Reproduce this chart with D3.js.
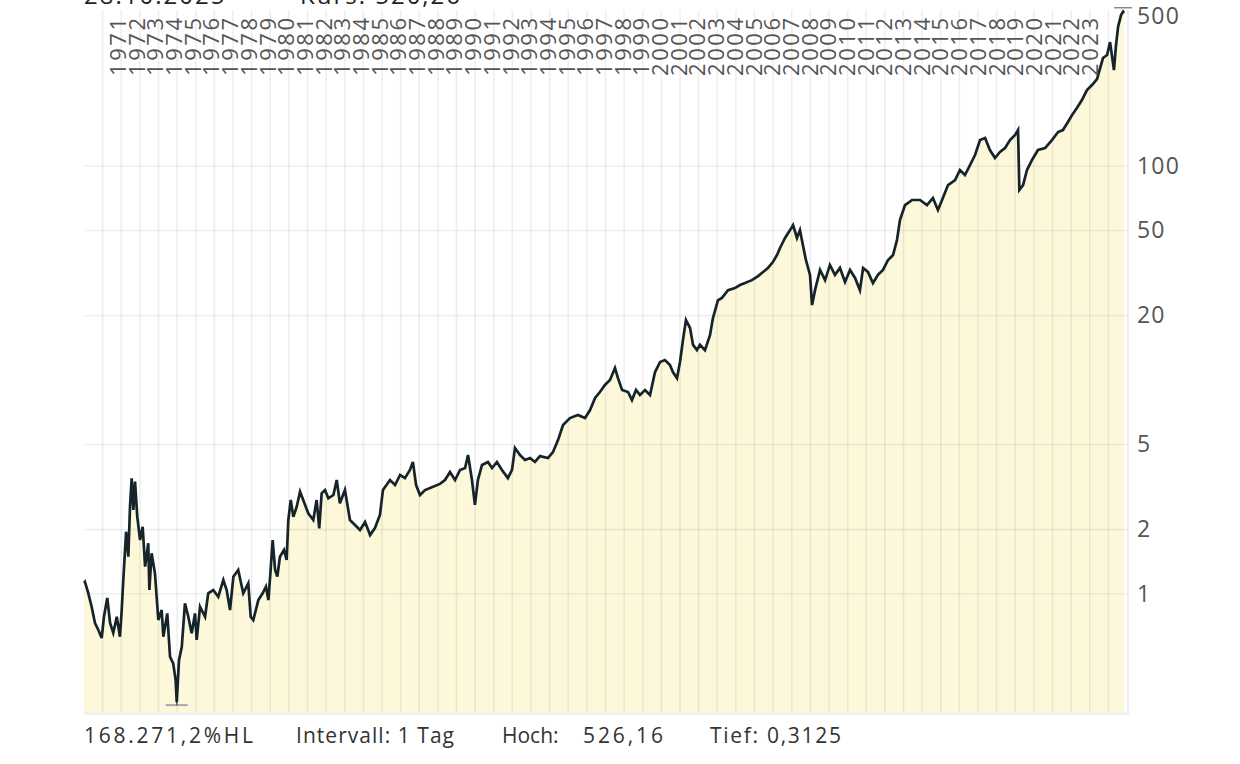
<!DOCTYPE html>
<html><head><meta charset="utf-8">
<script src="https://cdn.jsdelivr.net/npm/d3@7"></script>
<style>
html,body{margin:0;padding:0;background:#fff;}
svg{display:block;}
text{font-family:"Open Sans","Noto Sans",sans-serif;}
</style></head>
<body><svg id="c" width="1240" height="764"></svg>
<script>
// ---- data (decimal year, price) ----
const dates = [1970.00,1970.05,1970.23,1970.41,1970.59,1970.77,1970.95,1971.07,1971.25,1971.40,1971.57,1971.76,1971.93,1972.02,1972.11,1972.26,1972.38,1972.47,1972.56,1972.65,1972.74,1972.86,1973.01,1973.15,1973.28,1973.45,1973.51,1973.63,1973.81,1973.99,1974.17,1974.26,1974.47,1974.62,1974.79,1974.92,1974.98,1975.10,1975.25,1975.42,1975.60,1975.78,1975.96,1976.05,1976.23,1976.50,1976.67,1976.94,1977.21,1977.48,1977.66,1977.84,1978.02,1978.28,1978.55,1978.82,1978.95,1979.09,1979.36,1979.59,1979.77,1979.90,1980.02,1980.13,1980.26,1980.38,1980.52,1980.74,1980.88,1980.97,1981.10,1981.24,1981.42,1981.60,1981.77,1982.04,1982.31,1982.49,1982.63,1982.76,1982.94,1983.12,1983.39,1983.57,1983.74,1984.01,1984.28,1984.55,1984.82,1985.09,1985.36,1985.62,1985.89,1986.05,1986.43,1986.70,1986.97,1987.23,1987.50,1987.66,1987.83,1988.04,1988.31,1988.58,1989.11,1989.38,1989.65,1989.92,1990.19,1990.46,1990.62,1990.83,1990.99,1991.15,1991.37,1991.69,1991.91,1992.17,1992.44,1992.76,1992.98,1993.14,1993.41,1993.68,1993.95,1994.21,1994.48,1994.91,1995.18,1995.45,1995.72,1996.09,1996.52,1996.90,1997.17,1997.44,1997.70,1997.97,1998.24,1998.51,1998.67,1998.89,1999.21,1999.42,1999.64,1999.85,2000.12,2000.39,2000.66,2000.93,2001.19,2001.46,2001.62,2001.84,2002.00,2002.16,2002.32,2002.54,2002.70,2002.91,2003.07,2003.34,2003.61,2003.77,2004.04,2004.25,2004.58,2004.95,2005.22,2005.49,2005.86,2006.19,2006.46,2006.72,2006.99,2007.21,2007.37,2007.64,2007.91,2008.07,2008.28,2008.44,2008.60,2008.76,2008.98,2009.09,2009.25,2009.52,2009.79,2010.05,2010.32,2010.59,2010.86,2011.13,2011.40,2011.66,2011.83,2012.09,2012.36,2012.63,2012.90,2013.17,2013.44,2013.65,2013.81,2014.08,2014.46,2014.89,2015.26,2015.58,2015.85,2016.07,2016.39,2016.77,2017.03,2017.30,2017.57,2017.84,2018.11,2018.38,2018.64,2018.91,2019.18,2019.45,2019.72,2019.99,2020.15,2020.22,2020.42,2020.63,2020.90,2021.22,2021.60,2021.97,2022.30,2022.56,2022.83,2023.05,2023.31,2023.58,2023.85,2024.12,2024.39,2024.71,2024.93,2025.09,2025.30,2025.41,2025.52,2025.68,2025.79,2025.84];
const prices = [1.126,1.14,1.01,0.872,0.732,0.679,0.623,0.783,0.958,0.732,0.658,0.783,0.632,0.827,1.163,1.955,1.494,2.558,3.473,2.47,3.35,2.30,1.788,2.063,1.342,1.726,1.044,1.55,1.249,0.756,0.842,0.632,0.812,0.509,0.474,0.396,0.3125,0.491,0.567,0.905,0.783,0.655,0.812,0.610,0.872,0.783,1.008,1.044,0.971,1.163,1.044,0.842,1.205,1.295,1.008,1.122,0.783,0.756,0.937,1.008,1.082,0.937,1.295,1.788,1.295,1.205,1.494,1.606,1.442,2.217,2.750,2.297,2.558,3.006,2.750,2.383,2.217,2.750,2.028,2.955,3.062,2.801,2.902,3.41,2.653,3.062,2.217,2.10,1.991,2.17,1.887,2.035,2.34,3.062,3.41,3.23,3.60,3.48,3.80,4.14,3.23,2.902,3.062,3.13,3.27,3.41,3.72,3.41,3.80,3.88,4.46,3.41,2.61,3.41,4.01,4.14,3.88,4.14,3.80,3.48,3.80,4.81,4.46,4.23,4.32,4.14,4.41,4.32,4.61,5.24,6.16,6.64,6.86,6.64,7.24,8.24,8.79,9.48,10.0,11.38,10.2,8.98,8.79,8.06,8.98,8.51,8.98,8.51,10.9,12.14,12.4,11.75,10.9,10.2,12.14,15.4,19.07,17.5,14.6,13.8,14.6,13.8,16.2,19.5,23.6,24.2,26.3,26.9,27.8,28.4,29.3,30.6,32.0,33.4,35.6,38.4,41.4,46.1,50.2,53.0,46.1,50.2,42.7,36.4,31.0,22.4,26.3,32.7,29.3,34.5,31.0,33.4,28.7,32.7,30.0,26.3,33.4,32.0,28.4,31.0,32.7,36.4,38.4,45.1,55.9,65.7,69.4,69.4,65.7,70.9,62.3,69.4,81.5,86.0,95.8,90.8,101.1,112.6,132.3,135.1,118.8,109.0,116.3,121.4,132.3,139.6,147.3,77.3,81.5,95.8,106.7,118.8,121.4,132.3,144.2,147.3,160.6,173.1,186.6,203.4,226.5,239.0,255.0,319.7,330.2,379.6,280.9,367.6,446.2,507.6,526.16,518.8];
const gridYears = d3.range(1971, 2026);
const labelYears = d3.range(1971, 2024);
const yTicks = [1, 2, 5, 20, 50, 100, 500];
const yGrid = [1, 2, 5, 20, 50, 100];
const highVal = 526.16, lowVal = 0.3125;
const highDate = 2025.79, lowDate = 1974.98;
const topTexts = ["28.10.2025", "Kurs: 520,26"];
const footer = [
  {t: "168.271,2%HL", x: 84, w: 169},
  {t: "Intervall: 1 Tag", x: 296, w: 158},
  {t: "Hoch:", x: 502, w: null},
  {t: "526,16", x: 583, w: 80},
  {t: "Tief: 0,3125", x: 710, w: 131}
];

// ---- layout ----
const L = 84, R = 1127, T = 10, B = 712;
const svg = d3.select("#c");
const x = d3.scaleLinear().domain([1970, 2026]).range([L, R]);
const y = d3.scaleLog().domain([0.281, 536]).range([B, T]);
const xl = d3.scalePoint().domain(labelYears).range([126, 1098]);

const data = dates.map((d, i) => ({d, v: prices[i]}));

// fill
svg.append("path").datum(data)
  .attr("fill", "#fdf8da")
  .attr("d", d3.area().x(p => x(p.d)).y0(B).y1(p => y(p.v)));

// grid
svg.append("g").selectAll("line").data(gridYears).join("line")
  .attr("x1", d => x(d)).attr("x2", d => x(d)).attr("y1", T).attr("y2", B)
  .attr("stroke", "#000").attr("stroke-opacity", 0.065).attr("stroke-width", 1.6);
svg.append("g").selectAll("line").data(yGrid).join("line")
  .attr("x1", L).attr("x2", R).attr("y1", d => y(d)).attr("y2", d => y(d))
  .attr("stroke", "#000").attr("stroke-opacity", 0.065).attr("stroke-width", 1.6);

// frame bottom/right
svg.append("rect").attr("x", L).attr("y", B).attr("width", R - L + 2).attr("height", 3).attr("fill", "#efefef");
svg.append("line").attr("x1", R + 1).attr("x2", R + 1).attr("y1", T).attr("y2", B)
  .attr("stroke", "#ececec").attr("stroke-width", 2);

// low / high markers
svg.append("line").attr("x1", x(lowDate) - 11).attr("x2", x(lowDate) + 11)
  .attr("y1", y(lowVal) + 3).attr("y2", y(lowVal) + 3).attr("stroke", "#a8a8a8").attr("stroke-width", 2);
svg.append("line").attr("x1", x(lowDate)).attr("x2", x(lowDate))
  .attr("y1", y(lowVal) - 10).attr("y2", y(lowVal) + 3).attr("stroke", "#555").attr("stroke-width", 1.5);
svg.append("line").attr("x1", x(highDate) - 9).attr("x2", x(highDate) + 9)
  .attr("y1", y(highVal) - 4).attr("y2", y(highVal) - 4).attr("stroke", "#888").attr("stroke-width", 1.5);

// price line
svg.append("path").datum(data)
  .attr("fill", "none").attr("stroke", "#15232b").attr("stroke-width", 2.7)
  .attr("stroke-linejoin", "miter")
  .attr("d", d3.line().x(p => x(p.d)).y(p => y(p.v)));

// y axis (right)
const ay = svg.append("g").attr("transform", `translate(${R + 8},0)`)
  .call(d3.axisRight(y).tickValues(yTicks).tickSize(0).tickFormat(d3.format("d")));
ay.select(".domain").remove();
ay.selectAll("text").attr("x", 2).attr("fill", "#555").attr("font-size", 23)
  .attr("letter-spacing", "1.2px").attr("font-family", "Open Sans");

// year labels
svg.append("g").selectAll("text").data(labelYears).join("text")
  .attr("transform", d => `translate(${xl(d)},76) rotate(-90)`)
  .attr("font-size", 22).attr("letter-spacing", "2.6px").attr("fill", "#555")
  .text(d => d);

// top texts (cut off at the top edge, as in the reference)
svg.append("text").attr("x", 84).attr("y", 4).attr("font-size", 24).attr("fill", "#222")
  .attr("letter-spacing", "2px").text(topTexts[0]);
svg.append("text").attr("x", 300).attr("y", 4).attr("font-size", 24).attr("fill", "#222")
  .attr("letter-spacing", "2px").text(topTexts[1]);

// footer
const ft = svg.append("g").selectAll("text").data(footer).join("text")
  .attr("x", d => d.x).attr("y", 743).attr("font-size", 21).attr("fill", "#333")
  .text(d => d.t);
ft.filter(d => d.w).attr("textLength", d => d.w).attr("lengthAdjust", "spacing");
</script></body></html>
